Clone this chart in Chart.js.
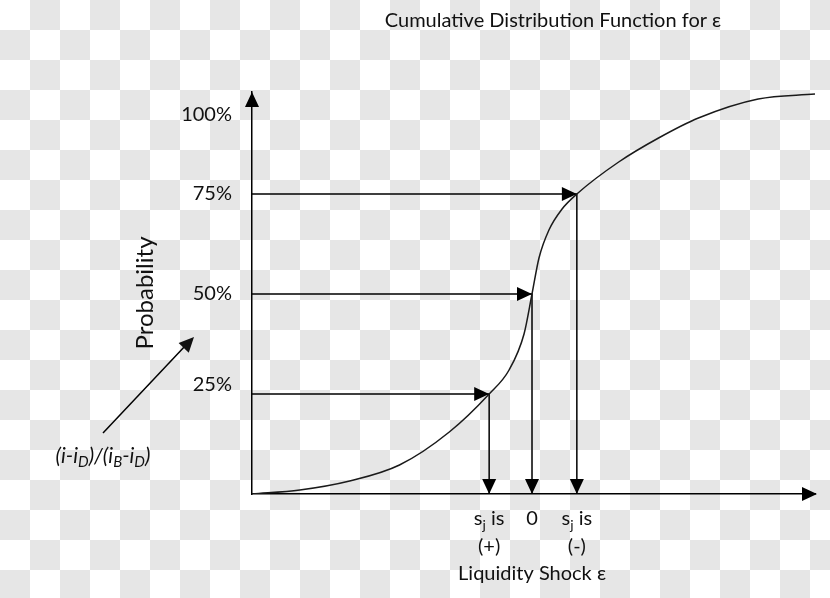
<!DOCTYPE html>
<html lang="en">
  <head>
    <meta charset="UTF-8" />
    <title>Cumulative Distribution Function</title>
    <style>
      body {
        margin: 0;
        background-color: #fff;
        background-image: conic-gradient(#e6e6e6 0 25%, #fff 0 50%, #e6e6e6 0 75%, #fff 0);
        background-size: 60px 60px;
      }
      .chart-container {
        position: relative;
        width: 830px;
        height: 598px;
      }
    </style>
    <script src="https://cdn.jsdelivr.net/npm/chart.js"></script>
  </head>
  <body>
    <div class="chart-container">
      <canvas id="cdfChart"></canvas>
    </div>
    <script>
      // CDF curve (x: shock, y: probability)
      const curveX = [-2.81, -2.33, -1.83, -1.33, -0.83, -0.43, -0.23, -0.08, 0, 0.07, 0.17, 0.3, 0.45, 0.87, 1.27, 1.67, 2.27, 2.84];
      const curveY = [0, 0.01, 0.0325, 0.0725, 0.155, 0.25, 0.31, 0.4, 0.5, 0.59, 0.66, 0.712, 0.75, 0.83, 0.89, 0.94, 0.9875, 1.0];

      // guide arrows: probability level -> shock value on the curve
      const levels = [0.25, 0.5, 0.75];
      const levelX = [-0.43, 0, 0.45];

      // axis labels
      const yTickValues = [0.2725, 0.5, 0.75, 0.9475];
      const yTickLabels = ["25%", "50%", "75%", "100%"];
      const xLabelValues = [-0.43, 0, 0.45];
      const xLabelTop = ["s_{j} is", "0", "s_{j} is"];
      const xLabelBottom = ["(+)", "", "(-)"];

      const X_MIN = -2.81, X_MAX = 2.84, Y_MIN = 0, Y_MAX = 1.005;
      const FONT = "Lato, 'Open Sans', sans-serif";

      // "a_{b}" -> [{t:'a'},{t:'b',sub:true}]
      function parseRich(str) {
        const parts = [];
        const re = /_\{([^}]*)\}/g;
        let last = 0, m;
        while ((m = re.exec(str))) {
          if (m.index > last) parts.push({ t: str.slice(last, m.index) });
          parts.push({ t: m[1], sub: true });
          last = re.lastIndex;
        }
        if (last < str.length) parts.push({ t: str.slice(last) });
        return parts;
      }

      function drawRich(ctx, str, x, y, size, style) {
        const parts = parseRich(str);
        const st = style || "";
        const fontFor = (p) => `${st} ${p.sub ? Math.round(size * 0.72) : size}px ${FONT}`;
        let w = 0;
        parts.forEach((p) => { ctx.font = fontFor(p); w += ctx.measureText(p.t).width; });
        let cx = x - w / 2;
        ctx.textAlign = "left";
        ctx.textBaseline = "middle";
        parts.forEach((p) => {
          ctx.font = fontFor(p);
          ctx.fillText(p.t, cx, p.sub ? y + size * 0.3 : y);
          cx += ctx.measureText(p.t).width;
        });
      }

      function arrowHead(ctx, x, y, dir, len, half) {
        const a = { up: -Math.PI / 2, down: Math.PI / 2, right: 0, left: Math.PI }[dir] ?? dir;
        ctx.save();
        ctx.translate(x, y);
        ctx.rotate(a);
        ctx.beginPath();
        ctx.moveTo(0, 0);
        ctx.lineTo(-len, -half);
        ctx.lineTo(-len, half);
        ctx.closePath();
        ctx.fill();
        ctx.restore();
      }

      const decorations = {
        id: "decorations",
        afterDraw(chart) {
          const { ctx, chartArea: area, scales } = chart;
          const xs = scales.x, ys = scales.y;
          ctx.save();
          ctx.fillStyle = "#000";
          ctx.strokeStyle = "#000";

          // axis arrow heads
          arrowHead(ctx, area.left, area.top, "up", 15, 7);
          arrowHead(ctx, area.right + 2, area.bottom, "right", 15, 7);

          // guide arrow heads
          levels.forEach((lv, i) => {
            const px = xs.getPixelForValue(levelX[i]);
            const py = ys.getPixelForValue(lv);
            arrowHead(ctx, px, py, "right", 15, 7);
            arrowHead(ctx, px, ys.getPixelForValue(0), "down", 15, 7);
          });

          // x labels
          ctx.fillStyle = "#111";
          xLabelValues.forEach((v, i) => {
            const px = xs.getPixelForValue(v);
            drawRich(ctx, xLabelTop[i], px, 519, 20);
            if (xLabelBottom[i]) drawRich(ctx, xLabelBottom[i], px, 547, 20);
          });
          drawRich(ctx, "Liquidity Shock ε", xs.getPixelForValue(0), 574, 20);

          // title
          drawRich(ctx, "Cumulative Distribution Function for ε", 553, 21, 20);

          // y axis title
          ctx.save();
          ctx.translate(145, 293);
          ctx.rotate(-Math.PI / 2);
          drawRich(ctx, "Probability", 0, 0, 24);
          ctx.restore();

          // diagonal arrow and its label
          ctx.lineWidth = 1.5;
          ctx.beginPath();
          ctx.moveTo(103, 433);
          ctx.lineTo(186, 345);
          ctx.stroke();
          arrowHead(ctx, 194, 337, Math.atan2(337 - 433, 194 - 103), 15, 7);
          drawRich(ctx, "(i-i_{D})/(i_{B}-i_{D})", 103, 456, 21, "italic");

          ctx.restore();
        },
      };

      const guideSets = levels.map((lv, i) => ({
        data: [
          { x: X_MIN, y: lv },
          { x: levelX[i], y: lv },
          { x: levelX[i], y: 0 },
        ],
        showLine: true,
        borderColor: "#000",
        borderWidth: 1.5,
        pointRadius: 0,
        tension: 0,
      }));

      new Chart(document.getElementById("cdfChart"), {
        type: "scatter",
        data: {
          datasets: [
            {
              data: curveX.map((x, i) => ({ x: x, y: curveY[i] })),
              showLine: true,
              borderColor: "#1a1a1a",
              borderWidth: 1.5,
              pointRadius: 0,
              cubicInterpolationMode: "monotone",
            },
            ...guideSets,
          ],
        },
        options: {
          responsive: true,
          maintainAspectRatio: false,
          animation: false,
          layout: { padding: { top: 92, right: 15, bottom: 104, left: 0 } },
          plugins: {
            legend: { display: false },
            tooltip: { enabled: false },
          },
          scales: {
            x: {
              type: "linear",
              min: X_MIN,
              max: X_MAX,
              grid: { display: false },
              border: { display: true, color: "#000", width: 1.5 },
              ticks: { display: false },
              afterFit(scale) { scale.height = 0; },
            },
            y: {
              type: "linear",
              min: Y_MIN,
              max: Y_MAX,
              grid: { display: false },
              border: { display: true, color: "#000", width: 1.5 },
              afterBuildTicks(scale) {
                scale.ticks = yTickValues.map((v) => ({ value: v }));
              },
              ticks: {
                padding: 12,
                color: "#111",
                font: { family: FONT, size: 20 },
                callback: (v, i) => yTickLabels[i],
              },
              afterFit(scale) { scale.width = 252; },
            },
          },
        },
        plugins: [decorations],
      });
    </script>
  </body>
</html>
